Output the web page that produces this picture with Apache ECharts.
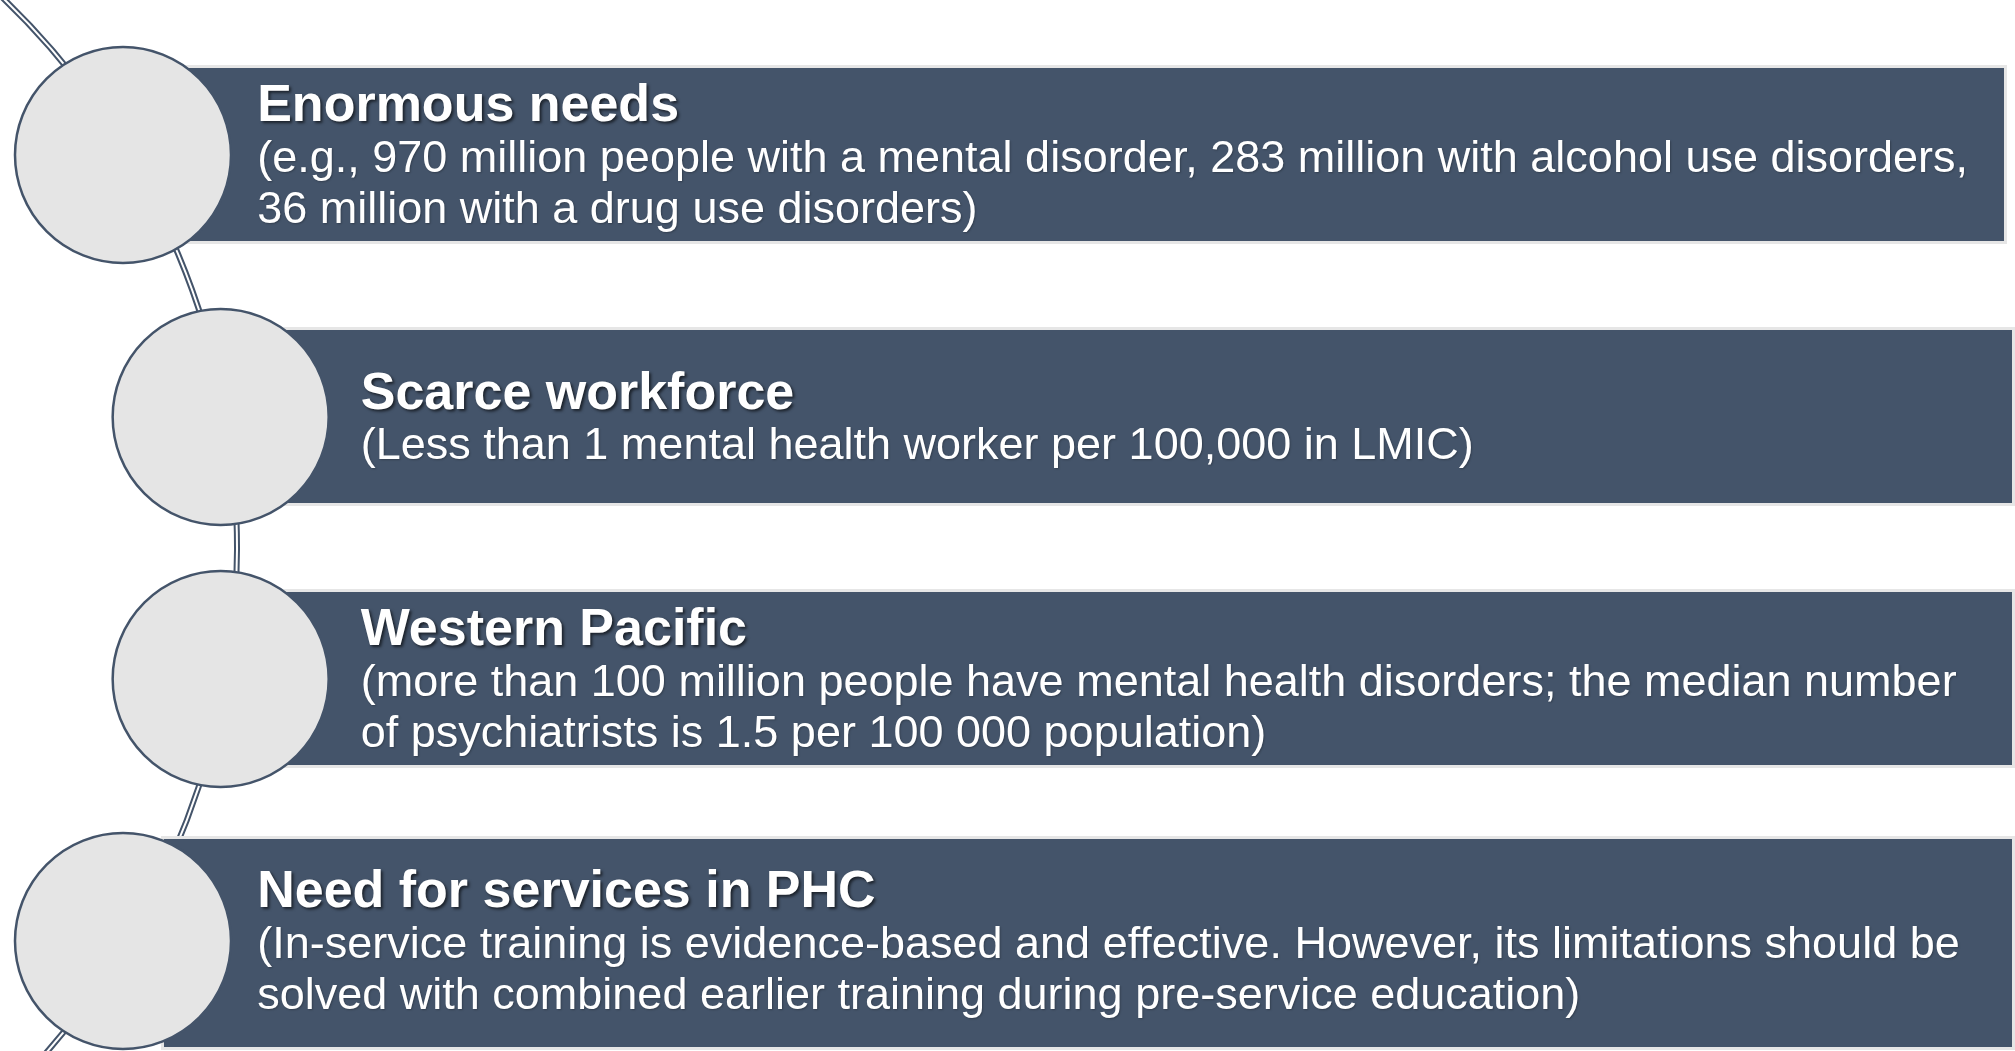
<!DOCTYPE html>
<html>
<head>
<meta charset="utf-8">
<script src="https://cdn.jsdelivr.net/npm/echarts@6/dist/echarts.min.js"></script>
<style>
html,body{margin:0;padding:0;background:#ffffff;}
#chart{width:2015px;height:1051px;}
</style>
</head>
<body>
<div id="chart"></div>
<script>
// ---- data ----
const titles = [
  'Enormous needs',
  'Scarce workforce',
  'Western Pacific',
  'Need for services in PHC'
];
const descriptions = [
  '(e.g., 970 million people with a mental disorder, 283 million with alcohol use disorders,\n36 million with a drug use disorders)',
  '(Less than 1 mental health worker per 100,000 in LMIC)',
  '(more than 100 million people have mental health disorders; the median number\nof psychiatrists is 1.5 per 100 000 population)',
  '(In-service training is evidence-based and effective. However, its limitations should be\nsolved with combined earlier training during pre-service education)'
];

// ---- styling / layout constants ----
const BAR_COLOR = '#44546A';
const CIRCLE_FILL = '#E5E5E5';
const FONT = 'Liberation Sans';
const ARC_R = 763;        // radius of the guiding arc
const ARC_APEX = 237;     // x of the arc's right-most point
const CIRCLE_R = 108;

const chart = echarts.init(document.getElementById('chart'), null, {renderer: 'canvas'});

function arcGeom(api) {
  const first = api.coord([0, 0])[1];
  const last = api.coord([0, titles.length - 1])[1];
  const yc = (first + last) / 2;
  const xc = ARC_APEX - ARC_R;
  return {xc, yc};
}
function arcX(g, y) {
  const dy = y - g.yc;
  return g.xc + Math.sqrt(ARC_R * ARC_R - dy * dy);
}

const option = {
  backgroundColor: '#ffffff',
  animation: false,
  textStyle: {fontFamily: FONT},
  grid: {left: 0, right: 0, top: 155, bottom: 110, containLabel: false},
  xAxis: {type: 'value', min: 0, max: 2015, show: false},
  yAxis: {type: 'value', min: 0, max: titles.length - 1, inverse: true, show: false},
  series: [
    {
      type: 'custom',
      z: 1,
      silent: true,
      clip: false,
      data: [[0, 0]],
      renderItem: function (params, api) {
        const g = arcGeom(api);
        const a0 = Math.asin((0 - g.yc) / ARC_R) - 0.02;
        const a1 = Math.asin((1051 - g.yc) / ARC_R) + 0.02;
        const shape = {cx: g.xc, cy: g.yc, r: ARC_R, startAngle: a0, endAngle: a1, clockwise: true};
        return {
          type: 'group',
          children: [
            {type: 'arc', shape: shape, style: {stroke: BAR_COLOR, lineWidth: 6, fill: null}},
            {type: 'arc', shape: shape, style: {stroke: '#ffffff', lineWidth: 2, fill: null}}
          ]
        };
      }
    },
    {
      type: 'custom',
      z: 2,
      silent: true,
      clip: false,
      data: titles.map((t, i) => [0, i]),
      renderItem: function (params, api) {
        const i = params.dataIndex;
        const g = arcGeom(api);
        const cy = api.coord([0, api.value(1)])[1];
        const cx = arcX(g, cy) - 5;
        const cs = params.coordSys;
        const last = i === titles.length - 1;
        const top = cy - (last ? 102 : 87);
        const bottom = cy + (last ? 106 : 86);
        const left = cx + 41;
        const right = cs.x + cs.width - (i === 0 ? 11 : 3);
        const lines = descriptions[i].split('\n').map(s => '{b|' + s + '}').join('\n');
        return {
          type: 'group',
          children: [
            {type: 'rect', shape: {x: left - 3, y: top - 3, width: right - left + 6, height: bottom - top + 6},
              style: {fill: '#E6E6E6'}},
            {type: 'rect', shape: {x: left, y: top, width: right - left, height: bottom - top},
              style: {fill: BAR_COLOR}},
            {type: 'circle', shape: {cx: cx, cy: cy, r: CIRCLE_R},
              style: {fill: CIRCLE_FILL, stroke: BAR_COLOR, lineWidth: 2.5}},
            {type: 'text', x: cx + 137 + (cx - 170) * 0.06, y: cy + 3,
              style: {
                text: '{t|' + titles[i] + '}\n' + lines,
                align: 'left',
                verticalAlign: 'middle',
                fill: '#ffffff',
                fontFamily: FONT,
                rich: {
                  t: {fontFamily: FONT, fontSize: 52, fontWeight: 'bold', lineHeight: 54, fill: '#ffffff',
                      textShadowColor: 'rgba(0,0,0,0.6)', textShadowBlur: 3, textShadowOffsetX: 2, textShadowOffsetY: 2},
                  b: {fontFamily: FONT, fontSize: 45, lineHeight: 51, fill: '#ffffff',
                      textShadowColor: 'rgba(0,0,0,0.25)', textShadowBlur: 2, textShadowOffsetX: 1, textShadowOffsetY: 1}
                }
              }}
          ]
        };
      }
    }
  ]
};
chart.setOption(option);
</script>
</body>
</html>
